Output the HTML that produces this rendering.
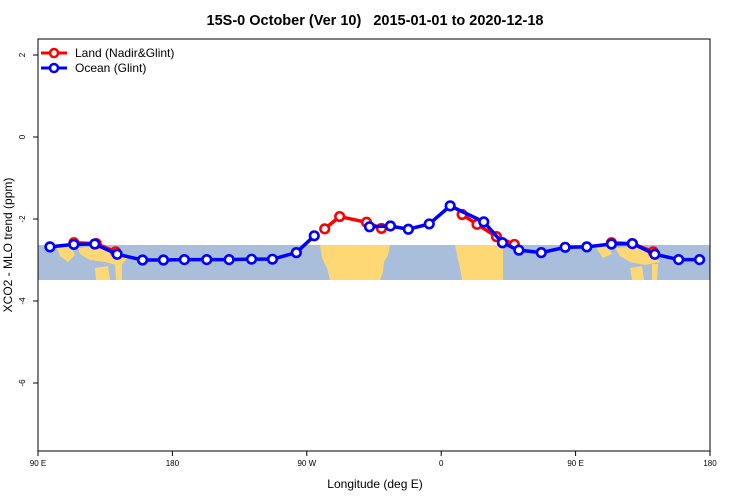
<!DOCTYPE html>
<html><head><meta charset="utf-8"><style>
body{margin:0;background:#fff;}
svg{display:block;font-family:"Liberation Sans",sans-serif;}
</style></head><body>
<svg id="c" width="750" height="500">
<text x="375" y="25" text-anchor="middle" font-size="14.5" font-weight="bold" style="white-space:pre">15S-0 October (Ver 10)   2015-01-01 to 2020-12-18</text>
<g id="band"></g>
<g id="axes"></g>
<g id="series"></g>
<text x="375" y="488" text-anchor="middle" font-size="12">Longitude (deg E)</text>
<text transform="translate(12,245) rotate(-90)" text-anchor="middle" font-size="12">XCO2 - MLO trend (ppm)</text>
<g>
<line x1="41" y1="53" x2="67" y2="53" stroke="#f00" stroke-width="3"/><circle cx="54" cy="53" r="4" fill="#fff" stroke="#f00" stroke-width="2.5"/>
<text x="75" y="57" font-size="12">Land (Nadir&amp;Glint)</text>
<line x1="41" y1="68" x2="67" y2="68" stroke="#00f" stroke-width="3"/><circle cx="54" cy="68" r="4" fill="#fff" stroke="#00f" stroke-width="2.5"/>
<text x="75" y="72" font-size="12">Ocean (Glint)</text>
</g>
</svg>
<script>
const xTicks=[-270,-180,-90,0,90,180];
const xTickLabels=["90 E","180","90 W","0","90 E","180"];
const yTicks=[2,0,-2,-4,-6];
const oceanLon=[-262,-246,-232,-217,-200,-186,-172,-157,-142,-127,-113,-97,-85,null,-48,-34,-22,-8,6,28.5,41,52,67,83,97.5,114,128,143,159,173];
const oceanVal=[-2.68,-2.62,-2.61,-2.86,-3.0,-3.0,-2.99,-2.99,-2.99,-2.98,-2.98,-2.82,-2.41,null,-2.19,-2.17,-2.25,-2.12,-1.68,-2.07,-2.58,-2.76,-2.82,-2.69,-2.68,-2.61,-2.6,-2.86,-2.99,-2.99];
const landLon=[-246,-231,-218,null,-78,-68,-50,-40,null,14,24,37,49,null,114,128,142];
const landVal=[-2.58,-2.6,-2.8,null,-2.24,-1.94,-2.08,-2.23,null,-1.89,-2.13,-2.43,-2.62,null,-2.58,-2.6,-2.8];
const NS="http://www.w3.org/2000/svg";
const X0=38,X1=710,Y0=39,Y1=451;
const sx=v=>X0+(v+270)*(X1-X0)/450;
const sy=v=>137-v*41;
function mk(t,a,p){const e=document.createElementNS(NS,t);for(const k in a)e.setAttribute(k,a[k]);p.appendChild(e);return e;}
const band=document.getElementById('band');
mk('rect',{x:X0,y:245,width:X1-X0,height:35,fill:'#a8bedb'},band);
const land=[
"M320,245 L390,245 L388,255 L384,262 L383,272 L380,280 L330,280 L327,268 L322,258 Z",
"M455,245 L503,245 L503,280 L462,280 L460,268 L457,255 Z",
"M56,246 L70,246 L75,255 L68,262 L60,256 Z","M78,248 L100,246 L115,250 L128,258 L120,266 L105,262 L90,260 L80,254 Z",
"M95,268 L108,266 L110,280 L96,280 Z","M115,262 L122,262 L122,280 L116,280 Z",
"M595,246 L608,246 L612,254 L603,258 Z","M615,248 L640,246 L652,252 L660,262 L645,265 L630,262 L620,256 Z",
"M630,268 L642,266 L644,280 L632,280 Z","M652,264 L658,264 L657,280 L652,280 Z"];
land.forEach(d=>{const p=mk('path',{d:d,fill:'#fdd875'},band);

});
const axes=document.getElementById('axes');
mk('rect',{x:X0,y:Y0,width:X1-X0,height:Y1-Y0,fill:'none',stroke:'#000','stroke-width':1},axes);
xTicks.forEach((t,i)=>{const x=sx(t);mk('line',{x1:x,y1:Y1,x2:x,y2:Y1+5,stroke:'#000'},axes);
const l=mk('text',{x:x,y:Y1+15,'text-anchor':'middle','font-size':'8'},axes);l.textContent=xTickLabels[i];

});
yTicks.forEach(t=>{const y=sy(t);mk('line',{x1:X0-5,y1:y,x2:X0,y2:y,stroke:'#000'},axes);
const l=mk('text',{transform:`translate(${X0-13},${y}) rotate(-90)`,'text-anchor':'middle','font-size':'8'},axes);l.textContent=t;

});
const ser=document.getElementById('series');
function draw(lons,vals,col,name){
 const g=mk('g',{},ser);
 
 
 let seg=[];const segs=[];
 lons.forEach((l,i)=>{if(l===null){if(seg.length)segs.push(seg);seg=[];}else seg.push([sx(l),sy(vals[i])]);});
 if(seg.length)segs.push(seg);
 segs.forEach(s=>mk('polyline',{points:s.map(p=>p.join(',')).join(' '),fill:'none',stroke:col,'stroke-width':3.5,'stroke-linejoin':'round'},g));
 segs.flat().forEach(p=>{const c=mk('circle',{cx:p[0],cy:p[1],r:4.3,fill:'#fff',stroke:col,'stroke-width':2.6},g);
 
 });
}
draw(landLon,landVal,'#f00','land-series');
draw(oceanLon,oceanVal,'#00f','ocean-series');
</script>
</body></html>
